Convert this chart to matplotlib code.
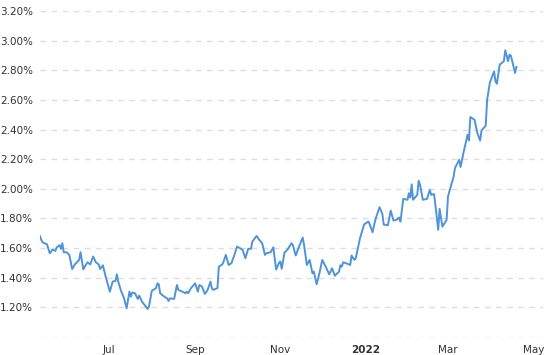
import pandas as pd
import matplotlib
matplotlib.use("Agg")
import matplotlib.pyplot as plt
import matplotlib.dates as mdates
from matplotlib.ticker import FuncFormatter

# daily yield readings (percent)
dates = [
    "2021-05-13", "2021-05-14", "2021-05-15", "2021-05-18", "2021-05-20", "2021-05-22",
    "2021-05-24", "2021-05-25", "2021-05-27", "2021-05-28", "2021-05-29", "2021-05-30",
    "2021-06-01", "2021-06-03", "2021-06-05", "2021-06-07", "2021-06-10", "2021-06-11",
    "2021-06-13", "2021-06-15", "2021-06-16", "2021-06-18", "2021-06-20", "2021-06-22",
    "2021-06-24", "2021-06-25", "2021-06-27", "2021-06-29", "2021-07-02", "2021-07-04",
    "2021-07-06", "2021-07-07", "2021-07-08", "2021-07-10", "2021-07-12", "2021-07-14",
    "2021-07-16", "2021-07-17", "2021-07-18", "2021-07-20", "2021-07-22", "2021-07-23",
    "2021-07-25", "2021-07-29", "2021-07-30", "2021-08-01", "2021-08-04", "2021-08-05",
    "2021-08-06", "2021-08-07", "2021-08-10", "2021-08-12", "2021-08-13", "2021-08-14",
    "2021-08-17", "2021-08-19", "2021-08-20", "2021-08-23", "2021-08-25", "2021-08-26",
    "2021-08-27", "2021-08-29", "2021-09-01", "2021-09-03", "2021-09-04", "2021-09-06",
    "2021-09-08", "2021-09-10", "2021-09-12", "2021-09-13", "2021-09-14", "2021-09-17",
    "2021-09-18", "2021-09-20", "2021-09-21", "2021-09-23", "2021-09-24", "2021-09-25",
    "2021-09-27", "2021-09-29", "2021-10-01", "2021-10-03", "2021-10-05", "2021-10-07",
    "2021-10-09", "2021-10-11", "2021-10-12", "2021-10-15", "2021-10-17", "2021-10-19",
    "2021-10-21", "2021-10-22", "2021-10-25", "2021-10-27", "2021-10-29", "2021-10-31",
    "2021-11-01", "2021-11-02", "2021-11-04", "2021-11-06", "2021-11-09", "2021-11-10",
    "2021-11-12", "2021-11-14", "2021-11-17", "2021-11-18", "2021-11-20", "2021-11-22",
    "2021-11-24", "2021-11-25", "2021-11-27", "2021-11-29", "2021-12-01", "2021-12-03",
    "2021-12-06", "2021-12-08", "2021-12-10", "2021-12-13", "2021-12-14", "2021-12-15",
    "2021-12-16", "2021-12-18", "2021-12-21", "2021-12-22", "2021-12-24", "2021-12-25",
    "2021-12-28", "2021-12-31", "2022-01-03", "2022-01-04", "2022-01-06", "2022-01-08",
    "2022-01-09", "2022-01-11", "2022-01-13", "2022-01-14", "2022-01-17", "2022-01-19",
    "2022-01-21", "2022-01-23", "2022-01-25", "2022-01-26", "2022-01-28", "2022-01-31",
    "2022-02-01", "2022-02-02", "2022-02-03", "2022-02-04", "2022-02-07", "2022-02-08",
    "2022-02-09", "2022-02-11", "2022-02-14", "2022-02-16", "2022-02-17", "2022-02-19",
    "2022-02-20", "2022-02-22", "2022-02-23", "2022-02-25", "2022-02-28", "2022-03-01",
    "2022-03-03", "2022-03-05", "2022-03-06", "2022-03-09", "2022-03-10", "2022-03-12",
    "2022-03-15", "2022-03-16", "2022-03-17", "2022-03-20", "2022-03-22", "2022-03-24",
    "2022-03-25", "2022-03-28", "2022-03-29", "2022-03-31", "2022-04-03", "2022-04-04",
    "2022-04-05", "2022-04-07", "2022-04-10", "2022-04-11", "2022-04-13", "2022-04-14",
    "2022-04-15", "2022-04-18", "2022-04-19",
]
values = [
    1.680, 1.655, 1.637, 1.626, 1.565, 1.590,
    1.581, 1.605, 1.620, 1.595, 1.633, 1.572,
    1.572, 1.554, 1.459, 1.490, 1.520, 1.572,
    1.457, 1.490, 1.504, 1.490, 1.543, 1.504,
    1.490, 1.459, 1.484, 1.408, 1.306, 1.374,
    1.378, 1.423, 1.374, 1.311, 1.266, 1.194,
    1.306, 1.272, 1.300, 1.295, 1.257, 1.279,
    1.239, 1.189, 1.205, 1.311, 1.329, 1.362,
    1.356, 1.295, 1.272, 1.261, 1.243, 1.261,
    1.257, 1.351, 1.318, 1.306, 1.295, 1.306,
    1.295, 1.329, 1.362, 1.306, 1.351, 1.340,
    1.290, 1.318, 1.374, 1.329, 1.318, 1.330,
    1.475, 1.486, 1.498, 1.554, 1.520, 1.486,
    1.498, 1.550, 1.610, 1.600, 1.588, 1.532,
    1.595, 1.595, 1.644, 1.682, 1.655, 1.633,
    1.554, 1.565, 1.572, 1.605, 1.455, 1.500,
    1.510, 1.460, 1.570, 1.588, 1.633, 1.620,
    1.550, 1.600, 1.671, 1.620, 1.486, 1.520,
    1.430, 1.441, 1.356, 1.430, 1.520, 1.484,
    1.423, 1.464, 1.414, 1.441, 1.484, 1.475,
    1.504, 1.498, 1.486, 1.550, 1.520, 1.532,
    1.666, 1.760, 1.779, 1.760, 1.707, 1.790,
    1.820, 1.876, 1.831, 1.759, 1.754, 1.853,
    1.786, 1.790, 1.806, 1.779, 1.932, 1.926,
    1.970, 1.941, 2.030, 1.926, 1.959, 2.054,
    2.027, 1.926, 1.932, 1.993, 1.959, 1.965,
    1.890, 1.723, 1.865, 1.745, 1.790, 1.948,
    2.016, 2.080, 2.140, 2.196, 2.147, 2.240,
    2.365, 2.326, 2.484, 2.466, 2.376, 2.326,
    2.394, 2.426, 2.600, 2.718, 2.793, 2.725,
    2.709, 2.838, 2.861, 2.935, 2.861, 2.905,
    2.899, 2.782, 2.823,
]

tick_dates = ["2021-07-01", "2021-09-01", "2021-11-01", "2022-01-01", "2022-03-01", "2022-05-01"]
tick_labels = ["Jul", "Sep", "Nov", "2022", "Mar", "May"]
y_ticks = [1.0, 1.2, 1.4, 1.6, 1.8, 2.0, 2.2, 2.4, 2.6, 2.8, 3.0, 3.2]

x = pd.to_datetime(dates)

fig = plt.figure(figsize=(5.51, 3.55), dpi=100)
ax = fig.add_axes([40 / 551, 18 / 355, 503 / 551, 326 / 355])

ax.plot(x, values, color="#4f94d8", lw=1.4, solid_joinstyle="round")

ax.set_xlim(x[0], pd.Timestamp("2022-05-08"))
ax.set_ylim(1.0, 3.2)

ax.set_yticks(y_ticks)
ax.yaxis.set_major_formatter(FuncFormatter(lambda v, p: "" if v < 1.1 else f"{v:.2f}%"))
ax.set_xticks(pd.to_datetime(tick_dates))
ax.set_xticklabels(tick_labels)
for lbl in ax.get_xticklabels():
    if lbl.get_text() == "2022":
        lbl.set_fontweight("bold")

ax.tick_params(axis="both", length=0, labelsize=7.5, colors="#333333")
ax.tick_params(axis="y", pad=5)
ax.tick_params(axis="x", pad=6)

ax.grid(axis="y", color="#dddddd", linestyle=(0, (4, 4)), linewidth=1)
ax.grid(axis="x", visible=False)
for s in ax.spines.values():
    s.set_visible(False)

fig.savefig("out.png", dpi=100)
